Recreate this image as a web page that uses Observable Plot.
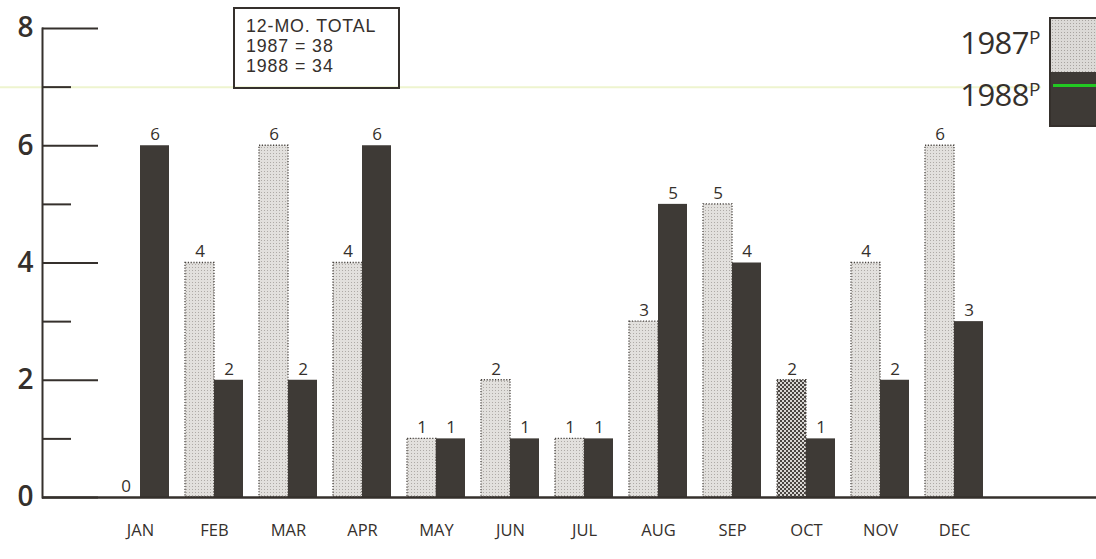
<!DOCTYPE html>
<html><head><meta charset="utf-8">
<script src="https://cdn.jsdelivr.net/npm/d3@7"></script>
<script src="https://cdn.jsdelivr.net/npm/@observablehq/plot@0.6"></script>
<style>
body{margin:0;background:#fff;font-family:"Open Sans",sans-serif;color:#35302c;}
#wrap{position:relative;width:1096px;height:559px;overflow:hidden;}
#total{position:absolute;left:233px;top:7px;width:163px;height:78px;border:2px solid #35302c;box-sizing:content-box;font-family:"Liberation Sans",sans-serif;font-size:17.8px;line-height:20px;letter-spacing:0.9px;}
#total div{padding-left:11px;}
#total div:first-child{margin-top:7px;}
.lg{position:absolute;right:56px;font-size:31px;line-height:31px;letter-spacing:-0.5px;}
.lg sup{font-size:19px;vertical-align:0;position:relative;top:-10px;}
#sw{position:absolute;left:1049px;top:17px;width:60px;height:106px;border:2px solid #35302c;}
#sw1{height:53px;background-color:#dcdad7;background-image:radial-gradient(#a8a4a0 0.7px,transparent 0.9px);background-size:3px 3px;}
#sw2{height:53px;background:#3e3a36;position:relative;}
#sw2 i{position:absolute;left:2px;right:0;top:12px;height:3px;background:#22c822;}
</style></head><body>
<svg width="0" height="0" style="position:absolute"><defs>
<pattern id="stip" width="3" height="3" patternUnits="userSpaceOnUse"><rect width="3" height="3" fill="#e2e0dd"/><rect x="0" y="0" width="1" height="1" fill="#aeaaa6"/></pattern>
<pattern id="check" width="4" height="4" patternUnits="userSpaceOnUse"><rect width="4" height="4" fill="#d8d6d3"/><rect x="0" y="0" width="2" height="2" fill="#4a4541"/><rect x="2" y="2" width="2" height="2" fill="#4a4541"/></pattern>
</defs></svg>
<div id="wrap">
<div id="chart"></div>
<div id="total"><div>12-MO. TOTAL</div><div>1987 = 38</div><div>1988 = 34</div></div>
<div class="lg" style="top:27px">1987<sup>P</sup></div>
<div class="lg" style="top:79px">1988<sup>P</sup></div>
<div id="sw"><div id="sw1"></div><div id="sw2"><i></i></div></div>
</div>
<script>
const months = ["JAN","FEB","MAR","APR","MAY","JUN","JUL","AUG","SEP","OCT","NOV","DEC"];
const values1987 = [0,4,6,4,1,2,1,3,5,2,4,6];
const values1988 = [6,2,2,6,1,1,1,5,4,1,2,3];
const seriesNames = ["1987P","1988P"];
const majorTicks = [0,2,4,6,8];
const minorTicks = [1,3,5,7];

const rows = [];
months.forEach((m,i)=>{
  rows.push({month:m, series:seriesNames[0], value:values1987[i]});
  rows.push({month:m, series:seriesNames[1], value:values1988[i]});
});
const r87 = rows.filter(d=>d.series===seriesNames[0]);
const r88 = rows.filter(d=>d.series===seriesNames[1]);

const W = 1096, H = 559, ML = 42, half = 29;
const ink = "#35302c", dark = "#3e3a36";

const plot = Plot.plot({
  width: W, height: H,
  marginLeft: ML, marginRight: 0, marginTop: 28, marginBottom: 62,
  style: {fontFamily: '"Open Sans", sans-serif', color: ink, background: "transparent"},
  x: {domain: months, range: [91.6, 1001.4], padding: 0.22, label: null},
  y: {domain: [0, 8], label: null},
  marks: [
    Plot.ruleY([7], {stroke: "#eef4cf", strokeWidth: 2, insetLeft: -42, insetRight: 55}),
    Plot.barY(r87, {x: "month", y: "value", insetRight: half,
      fill: d => d.month === "OCT" ? "url(#check)" : "url(#stip)",
      stroke: "#4a4541", strokeWidth: 1.3, strokeDasharray: "1.2,1.6"}),
    Plot.barY(r88, {x: "month", y: "value", insetLeft: half, fill: dark}),
    Plot.text(r87, {x: "month", y: "value", text: d => String(d.value), dx: -half/2, dy: -11, fontSize: 17, fill: ink}),
    Plot.text(r88, {x: "month", y: "value", text: d => String(d.value), dx: half/2, dy: -11, fontSize: 17, fill: ink}),
    Plot.ruleY(majorTicks, {stroke: ink, strokeWidth: 2, insetRight: (W - ML) - 56}),
    Plot.ruleY(minorTicks, {stroke: ink, strokeWidth: 2, insetRight: (W - ML) - 29}),
    Plot.ruleY([0], {stroke: ink, strokeWidth: 2.5}),
    Plot.frame({anchor: "left", stroke: ink, strokeWidth: 2}),
    Plot.axisY({ticks: majorTicks, tickSize: 0, tickPadding: 9, fontSize: 28, fontWeight: 600, fill: ink, label: null}),
    Plot.axisX({tickSize: 0, tickPadding: 27, fontSize: 16.5, fill: ink, label: null})
  ]
});
document.getElementById("chart").appendChild(plot);
</script>
</body></html>
